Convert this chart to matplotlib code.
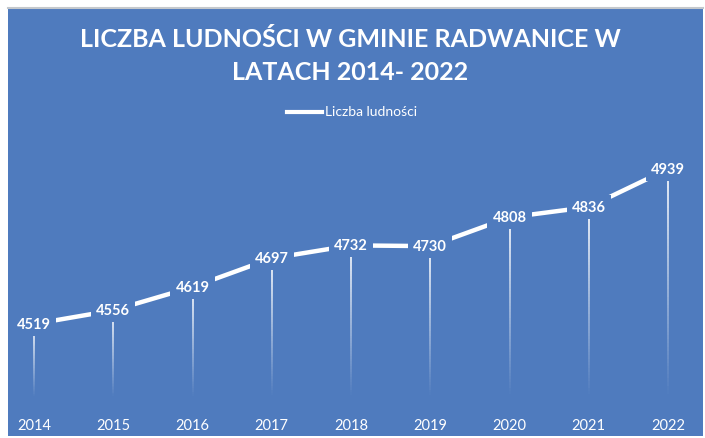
import matplotlib
matplotlib.use('Agg')
import matplotlib.pyplot as plt
import matplotlib.transforms as mtransforms
import numpy as np
from matplotlib.collections import LineCollection
from matplotlib.patches import Rectangle

plt.rcParams['font.family'] = ['Lato', 'DejaVu Sans']

years = ['2014', '2015', '2016', '2017', '2018', '2019', '2020', '2021', '2022']
population = [4519, 4556, 4619, 4697, 4732, 4730, 4808, 4836, 4939]
title = 'LICZBA LUDNOŚCI W GMINIE RADWANICE W\nLATACH 2014- 2022'
series_name = 'Liczba ludności'

bg = '#4f7bbe'
W, H = 705, 439

fig = plt.figure(figsize=(W / 100, H / 100), dpi=100)
fig.patch.set_facecolor('white')

# blue chart area with grey top edge
fig.patches.append(Rectangle((8 / W, 0.004), (703 - 8) / W, (430 - 2) / H,
                             transform=fig.transFigure, facecolor=bg,
                             edgecolor='none', zorder=-10))
fig.add_artist(plt.Line2D([8 / W, 703 / W], [1 - 9 / H, 1 - 9 / H],
                          color='#c4c8cc', lw=1.5, transform=fig.transFigure,
                          zorder=-5))

# axes placed so category centres land where the reference has them
ax_left, ax_right = 8, 703
ax_top, ax_bot = 147.5, 405.8
ax = fig.add_axes([ax_left / W, 1 - ax_bot / H, (ax_right - ax_left) / W,
                   (ax_bot - ax_top) / H])
ax.set_zorder(5)
ax.patch.set_alpha(0)
x = np.arange(len(years))
px = 634 / 8
ax.set_xlim(-(34 - ax_left) / px, 8 + (ax_right - 668) / px)
ax.set_ylim(4300, 5000)
ax.set_xticks([])
ax.set_yticks([])
for s in ax.spines.values():
    s.set_visible(False)

# drop lines fading towards the bottom
for xi, yi in zip(x, population):
    ys = np.linspace(yi, 4300 + 20, 60)
    segs = [[(xi, ys[i]), (xi, ys[i + 1])] for i in range(len(ys) - 1)]
    alphas = np.linspace(0.95, 0.0, len(segs))
    cols = [(1, 1, 1, a) for a in alphas]
    ax.add_collection(LineCollection(segs, colors=cols, linewidths=1.3, zorder=2))

ax.plot(x, population, color='white', lw=3.2, solid_capstyle='butt', zorder=3,
        clip_on=False)

for xi, yi in zip(x, population):
    ax.text(xi, yi, str(yi), ha='center', va='center', color='white',
            fontsize=10.5, fontweight='bold', zorder=5,
            bbox=dict(boxstyle='square,pad=0.35', fc=bg, ec='none'))

# year labels along the bottom
year_tr = mtransforms.blended_transform_factory(ax.transData, fig.transFigure)
for xi, lab in zip(x, years):
    ax.text(xi, 1 - 426 / H, lab, transform=year_tr, ha='center', va='center',
            color='white', fontsize=10.5)

fig.text(350 / W, 1 - 56 / H, title, ha='center', va='center', color='white',
         fontsize=18, fontweight='bold', linespacing=1.55)

# legend
fig.add_artist(plt.Line2D([287 / W, 322 / W], [1 - 113 / H, 1 - 113 / H],
                          color='white', lw=3, transform=fig.transFigure))
fig.text(325 / W, 1 - 112 / H, series_name, ha='left', va='center',
         color='white', fontsize=10)

fig.savefig('out.png', dpi=100, facecolor=fig.get_facecolor())
